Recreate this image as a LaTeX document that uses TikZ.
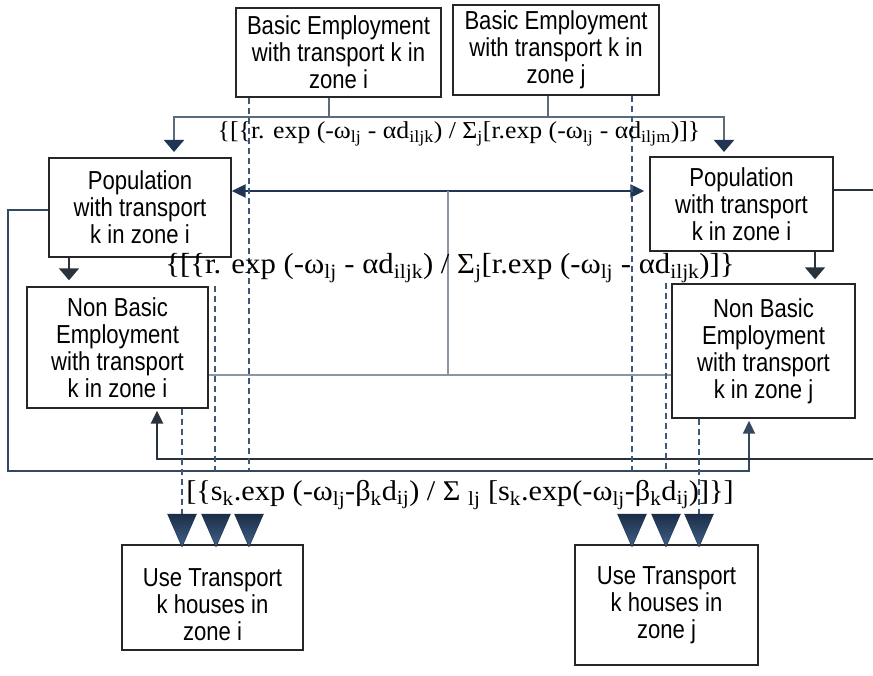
\documentclass[tikz,border=0pt]{standalone}
\usepackage{fontspec}
\setmainfont{Liberation Serif}
\newfontfamily\labelfont{Liberation Sans}[FakeStretch=0.85]
\newfontfamily\formfont{Liberation Serif}[FakeStretch=1.06]
\usetikzlibrary{arrows.meta}
\definecolor{boxline}{HTML}{262626}
\definecolor{busline}{HTML}{5B6B7E}
\definecolor{navy}{HTML}{1F3553}
\definecolor{thinline}{HTML}{8A96A3}
\definecolor{loopline}{HTML}{34495F}
\definecolor{loopdark}{HTML}{2A323C}
\definecolor{dashline}{HTML}{3E5878}
\definecolor{tipdark}{HTML}{1B2E47}
\definecolor{tiplight}{HTML}{41618A}
\newcommand\lowi[1]{\textsubscript{#1}}
\tikzset{
  box/.style={draw=boxline, line width=1.4pt, fill=white, inner sep=0pt,
    align=center, font=\labelfont\fontsize{26}{27}\selectfont},
  boxtext/.style={inner sep=0pt, align=center, font=\labelfont\fontsize{26}{27}\selectfont},
  formula/.style={inner sep=0pt},
  bus/.style={draw=busline, line width=2pt},
  dbl/.style={draw=navy, line width=2.2pt, {Triangle[length=14pt,width=13pt]}-{Triangle[length=14pt,width=13pt]}},
  thinlink/.style={draw=thinline, line width=1.1pt},
  loopout/.style={draw=loopline, line width=1.8pt, -{Triangle[length=13pt,width=12pt]}},
  loopin/.style={draw=loopdark, line width=2.4pt, -{Triangle[length=13pt,width=12pt]}},
  dashlink/.style={draw=dashline, line width=1.3pt, dash pattern=on 6pt off 4pt},
  downlink/.style={draw=loopdark, line width=1.8pt, -{Triangle[length=12pt,width=20pt]}},
  bigtip/.pic={\shade[top color=tipdark, bottom color=tiplight, draw=tipdark, line width=0.4pt]
    (-14.5,0) -- (14.5,0) -- (0,33) -- cycle;}
}
\begin{document}
\begin{tikzpicture}[x=1pt, y=-1pt]
\useasboundingbox (0,0) rectangle (873,676);
\clip (0,0) rectangle (873,676);

% boxes
\node[box, minimum width=205pt, minimum height=89pt] (bei) at (338.5,52.5)
  {Basic Employment\\with transport k in\\zone i};
\node[box, minimum width=206pt, minimum height=90pt] (bej) at (556,50)
  {Basic Employment\\with transport k in\\zone j};
\node[box, minimum width=182pt, minimum height=99pt] (popi) at (140,207.5)
  {Population\\with transport\\k in zone i};
\node[box, minimum width=183pt, minimum height=94pt] (popj) at (741.5,204)
  {Population\\with transport\\k in zone i};
\node[box, minimum width=181pt, minimum height=121pt] (nbi) at (117.5,347.5)
  {Non Basic\\Employment\\with transport\\k in zone i};
\node[box, minimum width=183pt, minimum height=134pt] (nbj) at (763.5,351)
  {Non Basic\\Employment\\with transport\\k in zone j};
\node[box, minimum width=181pt, minimum height=105pt] (usei) at (212.5,597.5) {};
\node[boxtext] (useitext) at (212.5,605) {Use Transport\\k houses in\\zone i};
\node[box, minimum width=183pt, minimum height=120pt] (usej) at (666.5,605)
  {Use Transport\\k houses in\\zone j};

% junction points
\coordinate (tipl) at (174,152);
\coordinate (tipr) at (724,152);
\coordinate (busy) at (0,117);
\coordinate (mid) at (448,191);
\coordinate (midlow) at (448,375);
\coordinate (outerl) at (8,471);
\coordinate (innerr) at (880,459);

% allocation of basic employment to population
\draw[bus] ([xshift=-10pt]bei.south) -- ([xshift=-10pt]bei.south |- busy);
\draw[bus] ([xshift=-8pt]bej.south) -- ([xshift=-8pt]bej.south |- busy);
\draw[bus, {Triangle[length=12pt,width=20pt,fill=navy,color=navy]}-{Triangle[length=12pt,width=20pt,fill=navy,color=navy]}]
  (tipl) |- (tipr |- busy) -- (tipr);

% population links
\draw[dbl] (popi.east |- mid) -- ([xshift=-5pt]popj.west |- mid);
\draw[thinlink] (mid) -- (midlow);
\draw[thinlink] (nbi.east |- midlow) -- (nbj.west |- midlow);

\draw[downlink] (popi.south -| 69,0) -- ([yshift=6pt]nbi.north -| 69,0);
\draw[downlink] (popj.south -| 815,0) -- ([yshift=4pt]nbj.north -| 815,0);

% feedback loops
\draw[loopout] (popi.west |- 0,210) -| (outerl) -| ([yshift=-2pt]nbj.south -| 749,0);
\draw[loopin] (popj.east |- 0,190) -| (innerr) -| ([yshift=-2pt]nbi.south -| 157,0);

% dashed allocation lines
\draw[dashlink] (bei.south -| 249,0) -- (249,471);
\draw[dashlink] (bej.south -| 632,0) -- (632,471);
\draw[dashlink] (nbi.north -| 215,0) -- (215,471);
\draw[dashlink] (nbj.north -| 666,0) -- (666,471);
\draw[dashlink] (nbi.south -| 182,0) -- (182,514);
\draw[dashlink] (nbj.south -| 699,0) -- (699,514);

% arrowheads into the housing boxes
\foreach \x in {182,216,249,632,666,699}
  \pic at (\x,514) {bigtip};

% formulas
\node[formula, font=\formfont\fontsize{24.3}{26}\selectfont] (f1) at (459,134)
  {\{[\{r. exp (-ω\lowi{lj} - αd\lowi{iljk}) / Σ\lowi{j}[r.exp (-ω\lowi{lj} - αd\lowi{iljm})]\}};
\node[formula, font=\formfont\fontsize{29}{31}\selectfont] (f2) at (450,268)
  {\{[\{r. exp (-ω\lowi{lj} - αd\lowi{iljk}) / Σ\lowi{j}[r.exp (-ω\lowi{lj} - αd\lowi{iljk})]\}};
\node[formula, font=\formfont\fontsize{28.6}{30}\selectfont] (f3) at (460,495)
  {[\{s\lowi{k}.exp (-ω\lowi{lj}-β\lowi{k}d\lowi{ij}) / Σ \lowi{lj} [s\lowi{k}.exp(-ω\lowi{lj}-β\lowi{k}d\lowi{ij})]\}]};
\end{tikzpicture}
\end{document}
